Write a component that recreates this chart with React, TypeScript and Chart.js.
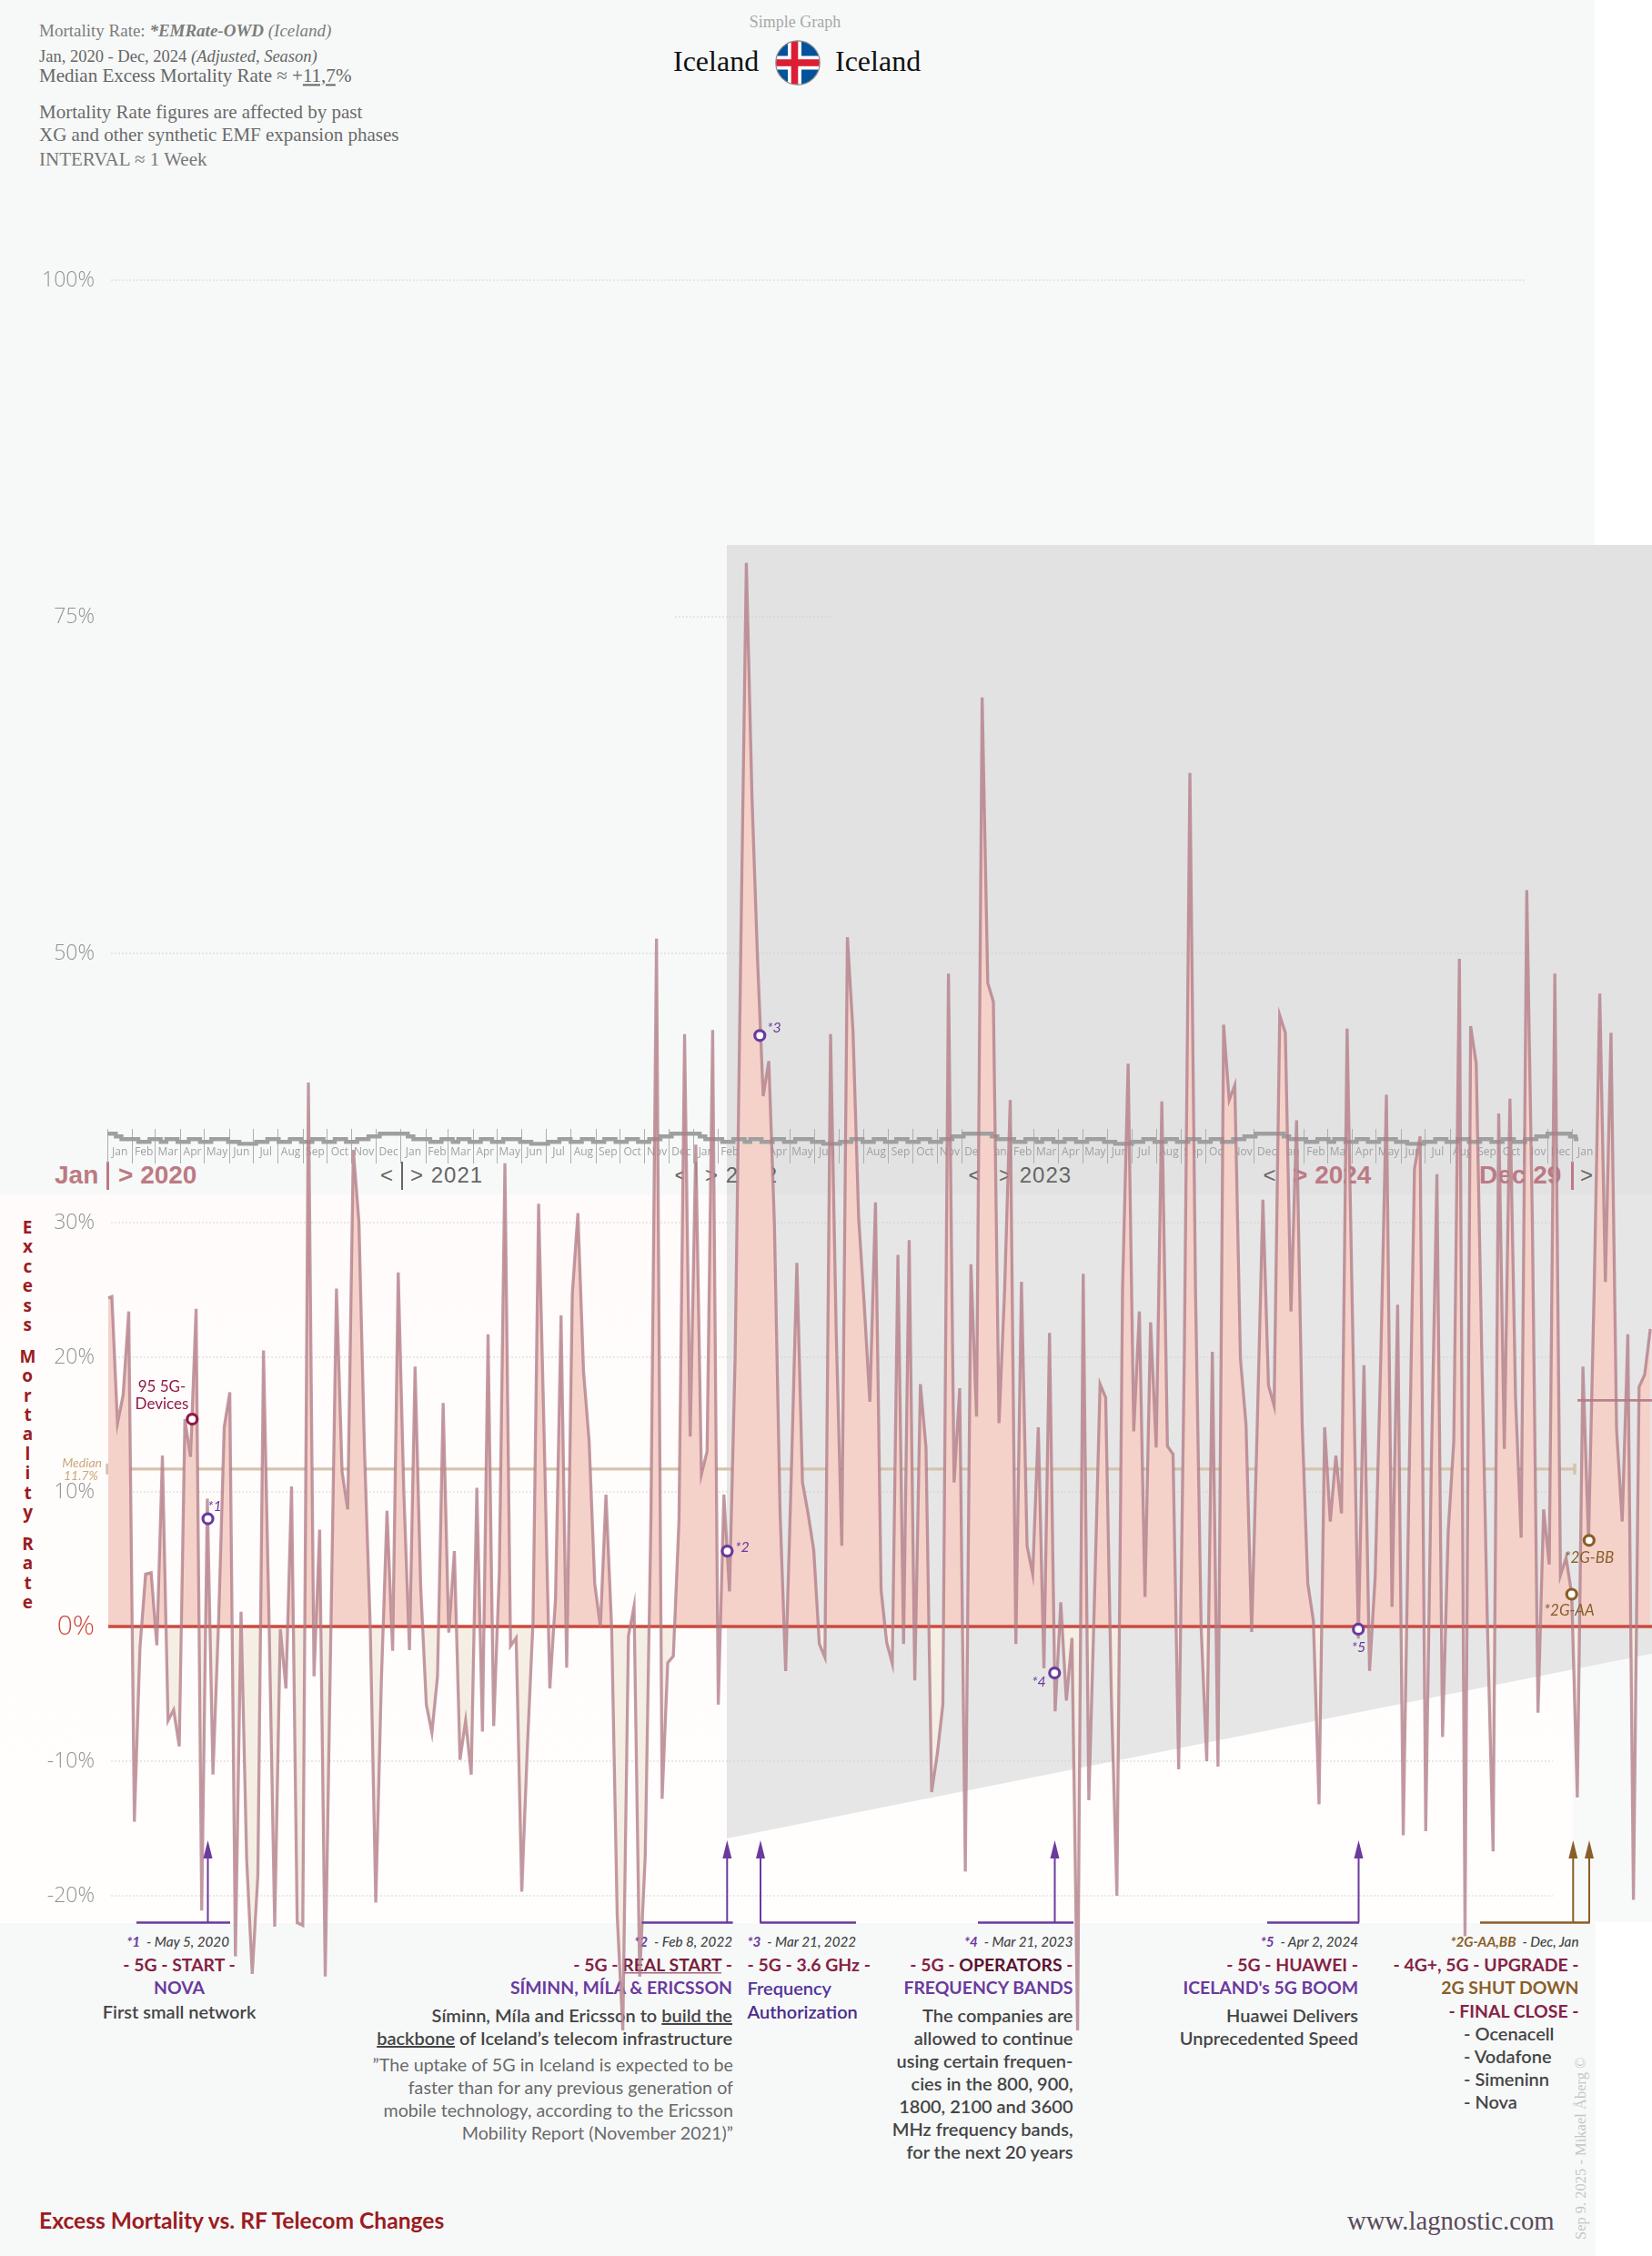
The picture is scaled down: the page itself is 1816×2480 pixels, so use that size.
import React, { useEffect, useRef } from "react";
import { Chart, registerables } from "chart.js";

Chart.register(...registerables);

// ---- Data -----------------------------------------------------------------
const leadValue = 24.4;
const weeklyExcess = [
  24.5, 15.1, 17.2, 23.4, -14.5, -1.6, 3.9, 4.0, -1.4, 12.7,
  -7.0, -6.2, -8.9, 15.4, 12.6, 23.6, -21.1, 9.5, -11.0, 0.3,
  14.8, 17.4, -24.5, 1.1, -17.3, -25.8, -18.5, 20.5, 0.3, -22.3,
  -0.2, -4.6, 10.4, -22, -22.2, 40.4, -3.7, 7.2, -26, -0.3,
  25.1, 11.5, 8.7, 35.4, 30.1, 13, 0.2, -20.5, -4, 8.6,
  -1.8, 26.3, 10, -1.75, 19.3, 3, -5.8, -7.9, -3.7, 16.6,
  -0.45, 5.6, -9.9, -7, -11, 10.3, -7.8, 21.7, -7.4, 4,
  34.4, -1.45, -0.85, -19.7, -9, 0.3, 31.4, 14, -4.6, 2,
  23.1, -3.05, 24.7, 30.7, 19, 13.8, 3.2, 0, 9.8, 0,
  -21.5, -30, -0.7, 1.5, -26, -17, 8, 51.1, -12.8, -2.7,
  -2.2, 7.9, 44, 14.1, 35.8, 11.3, 13, 44.3, -5.8, 9.8,
  2.6, 20, 50, 79, 61.7, 49.5, 39.4, 42, 29.9, 8.6,
  -3.3, 11.2, 27, 10.7, 8.4, 5.7, -1.3, -2.3, 44, 22,
  6, 51.2, 44.2, 30.4, 23.9, 16.7, 31.5, 2.7, -1.2, -2.75,
  27.6, -1.3, 28.7, -4, 18, 13.3, -12.3, -9.5, -5.8, 48.5,
  10.7, 17.7, -18.2, 26.9, 15.6, 69, 47.8, 46.4, 15.1, 25,
  39.1, -1.3, 25.6, 6, 3.9, 14.8, -3.1, 21.8, -6.3, 1.8,
  -5.5, -0.85, -30, 26.2, -12.9, 2, 18, 17, -5, -20,
  25, 41.8, 14.5, 23.4, 2.2, 22.6, 13.3, 39, 13.4, 12.8,
  -10.6, 20, 63.4, 25, 0, -10, 20.4, -10.4, 44.7, 39.1,
  40.2, 19.9, 15, -0.4, 15, 31.7, 17.9, 16.4, 45.4, 44.1,
  23.4, 37.6, 15, 3.2, 0.4, -13.2, 14.8, 7.8, 12.7, 8.4,
  44.4, 22, -0.9, 19.4, -3.3, 3.7, 20, 39.5, 1.45, 23.9,
  -15.5, 10, 34, 36.4, -15.2, 12, 33.6, -8.2, 7, 13.8,
  49.6, -23, 44.6, 41.8, 20, 0, -16.7, 38.1, 13.2, 39.2,
  17, 6.6, 54.7, 30, -6.4, 8.7, 4.6, 48.5, 3.8, 5.1,
  2.4, -12.7, 19.3, 6.4, 25, 47, 25.6, 44.1, 14.6, 7.8,
  21.7, -20.3, 17.8, 18.7, 22.1,
];
const stripYear = [
  36.6, 36.6, 36.4, 36.2, 36.2, 36.2, 36.0, 36.0, 36.2, 36.2, 36.0, 36.2, 36.2,
  36.0, 36.0, 36.2, 36.2, 36.0, 36.0, 36.2, 36.2, 36.2, 36.0, 36.0, 35.85, 35.85,
  35.85, 36.0, 36.0, 36.2, 36.2, 36.0, 36.0, 36.2, 36.2, 36.0, 36.0, 36.2, 36.2,
  36.0, 36.0, 36.2, 36.2, 36.0, 36.0, 36.2, 36.2, 36.4, 36.4, 36.6, 36.6, 36.6,
];
const stripSeries = [...stripYear, ...stripYear, ...stripYear, ...stripYear, ...stripYear, 36.6, 36.4, 36.2];
const monthNames = ["Jan", "Feb", "Mar", "Apr", "May", "Jun", "Jul", "Aug", "Sep", "Oct", "Nov", "Dec"];
const monthDays = [31, 28, 31, 30, 31, 30, 31, 31, 30, 31, 30, 31];
const yearList = [2020, 2021, 2022, 2023, 2024];
const yTickValues = [100, 75, 50, 30, 20, 10, 0, -10, -20];
const medianValue = 11.7;
const trailingMedian = 16.8;
const markerWeeks = [14.3, 17.1, 109.6, 115.4, 167.9, 222, 260, 263.1];
const markerValues = [15.4, 8.0, 5.6, 43.9, -3.45, -0.2, 2.4, 6.4];
const markerColors = ["#8E1A47", "#6B3A9E", "#6B3A9E", "#6B3A9E", "#6B3A9E", "#6B3A9E", "#8A5E28", "#8A5E28"];

// ---- Mapping constants -----------------------------------------------------
const W = 1816;
const H = 2480;
const AREA_LEFT = 117;
const X0 = 123;
const DX = 6.172;
const Y0 = 1788;
const DY = 14.8;
const vAt = (py: number) => (Y0 - py) / DY;
const wAt = (px: number) => (px - X0) / DX;

const boundaries: number[] = [];
const midpoints: number[] = [];
const monthTickLabels: string[] = [];
{
  let d = 0;
  yearList.forEach((yr) => {
    monthDays.forEach((len, m) => {
      const real = m === 1 && yr % 4 === 0 ? 29 : len;
      boundaries.push(-0.8 + d / 7);
      midpoints.push(-0.8 + (d + real / 2) / 7);
      monthTickLabels.push(monthNames[m]);
      d += real;
    });
  });
  boundaries.push(-0.8 + d / 7);
  midpoints.push(-0.8 + (d + 15.5) / 7);
  monthTickLabels.push("Jan");
}

const PURPLE = "#6B3A9E";
const BROWN = "#8A5E28";
const arrowDefs = [
  { from: 150, to: 253, tips: [228.5], color: PURPLE },
  { from: 705.6, to: 805.6, tips: [799.3], color: PURPLE },
  { from: 835.3, to: 941, tips: [836], color: PURPLE },
  { from: 1075, to: 1180, tips: [1159.5], color: PURPLE },
  { from: 1393, to: 1494, tips: [1493.5], color: PURPLE },
  { from: 1627, to: 1747.7, tips: [1729.3, 1747], color: BROWN },
];

const gridExtents: Record<number, [number, number]> = {
  100: [122, 1678],
  75: [742, 915],
  50: [122, 1676],
  30: [122, 1707],
  20: [122, 1707],
  10: [122, 1707],
  [-10]: [122, 1707],
  [-20]: [122, 1707],
};

const dottedGrid = {
  id: "dottedGrid",
  beforeDatasetsDraw(chart: any) {
    const { ctx, scales } = chart;
    ctx.save();
    ctx.setLineDash([2, 2]);
    ctx.lineWidth = 1.5;
    ctx.strokeStyle = "rgba(200,205,205,0.55)";
    scales.y.ticks.forEach((t: any) => {
      const ext = gridExtents[t.value];
      if (!ext) return;
      const y = Math.round(scales.y.getPixelForValue(t.value));
      ctx.beginPath();
      ctx.moveTo(ext[0], y);
      ctx.lineTo(ext[1], y);
      ctx.stroke();
    });
    ctx.restore();
  },
};

const arrows = {
  id: "arrows",
  afterDatasetsDraw(chart: any) {
    const { ctx } = chart;
    const base = 2113.5;
    ctx.save();
    arrowDefs.forEach((a) => {
      ctx.strokeStyle = a.color;
      ctx.fillStyle = a.color;
      ctx.lineWidth = 2.5;
      ctx.beginPath();
      ctx.moveTo(a.from, base);
      ctx.lineTo(a.to, base);
      ctx.stroke();
      a.tips.forEach((x) => {
        ctx.lineWidth = 2;
        ctx.beginPath();
        ctx.moveTo(x, base);
        ctx.lineTo(x, 2040);
        ctx.stroke();
        ctx.beginPath();
        ctx.moveTo(x, 2023);
        ctx.lineTo(x + 5, 2043);
        ctx.lineTo(x - 5, 2043);
        ctx.closePath();
        ctx.fill();
      });
    });
    ctx.restore();
  },
};

const noPad = (s: any) => {
  s.paddingLeft = 0;
  s.paddingRight = 0;
  s.paddingTop = 0;
  s.paddingBottom = 0;
};

// ---- Text helper -----------------------------------------------------------
type TP = {
  x: number;
  y: number;
  a?: "l" | "r" | "c";
  s?: number;
  c?: string;
  w?: number | string;
  i?: boolean;
  f?: string;
  ls?: number;
  children: React.ReactNode;
};
const LATO = "Lato, 'Open Sans', sans-serif";
const SERIF = "'Liberation Serif', serif";
const ARIAL = "'Liberation Sans', Arial, sans-serif";
function T({ x, y, a = "l", s = 18, c = "#444", w = 400, i = false, f = LATO, ls = 0, children }: TP) {
  const tx = a === "l" ? "0" : a === "r" ? "-100%" : "-50%";
  return (
    <div
      style={{
        position: "absolute",
        left: x,
        top: y,
        transform: `translate(${tx}, -50%)`,
        fontFamily: f,
        fontSize: s,
        color: c,
        fontWeight: w as any,
        fontStyle: i ? "italic" : "normal",
        whiteSpace: "pre",
        lineHeight: 1.2,
        letterSpacing: ls,
      }}
    >
      {children}
    </div>
  );
}
const Box = ({ l, t, w, h, c, clip }: { l: number; t: number; w: number; h: number; c: string; clip?: string }) => (
  <div style={{ position: "absolute", left: l, top: t, width: w, height: h, background: c, clipPath: clip }} />
);
const U = ({ children }: { children: React.ReactNode }) => <span style={{ textDecoration: "underline" }}>{children}</span>;

const ROSE = "#BC7A84";
const GREY = "#666";
const WINE = "#862244";
const DATE = "#444";
const BODY = "#454545";
const QUOTE = "#6A6A6A";
const BODY_W = 600;

const Bar = ({ x, c, w = 2 }: { x: number; c: string; w?: number }) => (
  <Box l={x - w / 2} t={1277} w={w} h={31} c={c} />
);

function DateLine({ x, a, tag, date, c = PURPLE }: { x: number; a: "l" | "r"; tag: string; date: string; c?: string }) {
  return (
    <T x={x} y={2134} a={a} s={15.2} i w={500} c={DATE}>
      <span style={{ color: c, fontWeight: 700 }}>{tag}</span>
      {"  - " + date}
    </T>
  );
}

function Flag() {
  return (
    <svg style={{ position: "absolute", left: 851, top: 43 }} width={52} height={52} viewBox="0 0 52 52">
      <defs>
        <clipPath id="flagc">
          <circle cx={26} cy={26} r={24} />
        </clipPath>
      </defs>
      <g clipPath="url(#flagc)">
        <rect width={52} height={52} fill="#02529C" />
        <rect x={15} width={15} height={52} fill="#fff" />
        <rect y={18.5} width={52} height={15} fill="#fff" />
        <rect x={18.7} width={7.6} height={52} fill="#DC1E35" />
        <rect y={22.2} width={52} height={7.6} fill="#DC1E35" />
      </g>
      <circle cx={26} cy={26} r={24.2} fill="none" stroke="#8a8a8a" strokeWidth={1.2} />
    </svg>
  );
}

export default function App() {
  const ref = useRef<HTMLCanvasElement | null>(null);
  useEffect(() => {
    if (!ref.current) return;
    const series = [
      { x: -0.65, y: leadValue },
      ...weeklyExcess.map((y, i) => ({ x: i, y })),
    ];
    const span = { min: wAt(AREA_LEFT), max: wAt(W) };
    const chart = new Chart(ref.current, {
      type: "line",
      data: {
        datasets: [
          {
            label: "Median",
            data: [
              { x: wAt(118), y: medianValue },
              { x: wAt(1731), y: medianValue },
            ],
            borderColor: "#D6C3AC",
            borderWidth: 3.2,
            pointStyle: "line",
            pointRotation: 90,
            pointRadius: 6,
            pointBorderColor: "#D6C3AC",
            pointBorderWidth: 3.5,
            order: 6,
            clip: false,
          } as any,
          {
            label: "Excess fill",
            data: series,
            borderWidth: 0,
            pointRadius: 0,
            tension: 0,
            fill: { target: { value: 0 }, above: "#F4D2C9", below: "#F5EEE4" },
            order: 5,
          } as any,
          {
            label: "Zero",
            data: [
              { x: -0.65, y: 0 },
              { x: span.max, y: 0 },
            ],
            borderColor: "#CC4A3E",
            borderWidth: 3.6,
            pointRadius: 0,
            order: 4,
          } as any,
          {
            label: "Interval strip",
            data: stripSeries.map((y, i) => ({ x: i - 0.8, y })),
            borderColor: "#9F9F9F",
            borderWidth: 4.4,
            pointRadius: 0,
            stepped: "middle",
            order: 3,
          } as any,
          {
            label: "Excess Mortality",
            data: series,
            borderColor: "rgba(176,122,134,0.76)",
            borderWidth: 3.3,
            pointRadius: 0,
            tension: 0,
            fill: false,
            order: 2,
          } as any,
          {
            label: "Trailing median",
            data: [
              { x: wAt(1734), y: trailingMedian },
              { x: span.max, y: trailingMedian },
            ],
            borderColor: "rgba(176,122,134,0.9)",
            borderWidth: 2.6,
            pointRadius: 0,
            order: 1,
          } as any,
          {
            label: "Events",
            data: markerWeeks.map((x, i) => ({ x, y: markerValues[i] })),
            showLine: false,
            pointRadius: 5.5,
            pointBorderWidth: 3.2,
            pointBackgroundColor: "#fff",
            pointBorderColor: markerColors,
            order: 0,
          } as any,
        ],
      },
      options: {
        animation: false,
        responsive: false,
        devicePixelRatio: 1,
        parsing: false,
        normalized: true,
        layout: { padding: 0, autoPadding: false },
        plugins: { legend: { display: false }, tooltip: { enabled: false } },
        elements: { line: { borderJoinStyle: "miter", capBezierPoints: false } },
        scales: {
          x: { type: "linear", display: false, min: span.min, max: span.max },
          xBounds: {
            type: "linear",
            axis: "x",
            position: { y: vAt(1241) },
            min: span.min,
            max: span.max,
            afterBuildTicks: (s: any) => {
              s.ticks = boundaries.map((value) => ({ value }));
            },
            afterFit: (s: any) => {
              s.height = 0;
              noPad(s);
            },
            border: { display: false },
            grid: { drawOnChartArea: false, drawTicks: true, tickLength: 38, color: "#AEAEAE", lineWidth: 1 },
            ticks: { display: false, autoSkip: false },
          },
          xMonths: {
            type: "linear",
            axis: "x",
            position: { y: vAt(1259) },
            min: span.min,
            max: span.max,
            afterBuildTicks: (s: any) => {
              s.ticks = midpoints.map((value) => ({ value }));
            },
            afterFit: (s: any) => {
              s.height = 0;
              noPad(s);
            },
            border: { display: false },
            grid: { display: false, drawTicks: false },
            ticks: {
              autoSkip: false,
              maxRotation: 0,
              minRotation: 0,
              padding: 0,
              color: "#A0A0A0",
              font: { family: "'Liberation Sans Narrow', 'Open Sans', sans-serif", size: 12 },
              callback: (_v: any, i: number) => monthTickLabels[i],
            },
          },
          y: {
            type: "linear",
            min: vAt(H),
            max: vAt(0),
            afterBuildTicks: (s: any) => {
              s.ticks = yTickValues.map((value) => ({ value }));
            },
            afterFit: (s: any) => {
              s.width = AREA_LEFT;
              noPad(s);
            },
            border: { display: false },
            grid: { display: false, drawTicks: false },
            ticks: {
              autoSkip: false,
              padding: 13,
              color: (ctx: any) => (ctx.tick.value === 0 ? "#CC4A3E" : "#929292"),
              font: (ctx: any) => ({
                family: "'Open Sans', sans-serif",
                weight: "300",
                size: ctx.tick && ctx.tick.value === 0 ? 30 : 23,
              }),
              callback: (v: any) => `${v}%`,
            },
          },
        },
      } as any,
      plugins: [dottedGrid, arrows],
    });
    return () => chart.destroy();
  }, []);

  return (
    <div style={{ position: "absolute", left: 0, top: 0, width: W, height: H, overflow: "hidden", background: "#fff" }}>
      {/* panels */}
      <Box l={0} t={0} w={1753} h={1313} c="#F7F9F8" />
      <Box l={0} t={1313} w={1729} h={800} c="linear-gradient(#FFFBFB, #FFFEFD)" />
      <Box l={0} t={2113.5} w={1754} h={367} c="#F7F9F9" />
      <Box l={1729} t={1313} w={87} h={800} c="#F8F9F9" />
      <Box l={799} t={599} w={1017} h={714} c="#E2E2E2" />
      <Box l={799} t={1313} w={1017} h={708} c="#E6E6E6" clip="polygon(0 0, 100% 0, 100% 71.3%, 0 100%)" />

      {/* header */}
      <T x={43} y={34} s={19} c="#7C7C7C" f={SERIF}>
        {"Mortality Rate: "}
        <b style={{ fontStyle: "italic" }}>*EMRate-OWD</b> <i>(Iceland)</i>
      </T>
      <T x={43} y={62} s={18.5} c="#666" f={SERIF}>
        Jan, 2020 - Dec, 2024 <i>(Adjusted, Season)</i>
      </T>
      <T x={43} y={84} s={21} c="#666" f={SERIF}>
        {"Median Excess Mortality Rate ≈ +"}
        <U>11,7</U>%
      </T>
      <T x={43} y={124} s={21} c="#6A6A6A" f={SERIF}>
        Mortality Rate figures are affected by past
      </T>
      <T x={43} y={149} s={21} c="#6A6A6A" f={SERIF}>
        XG and other synthetic EMF expansion phases
      </T>
      <T x={43} y={176} s={21} c="#777" f={SERIF}>
        INTERVAL ≈ 1 Week
      </T>
      <T x={874} y={25} a="c" s={18} c="#A8A8A8" f={SERIF}>
        Simple Graph
      </T>
      <T x={740} y={67} s={32} c="#111" f={SERIF}>
        Iceland
      </T>
      <T x={918} y={67} s={32} c="#111" f={SERIF}>
        Iceland
      </T>
      <Flag />

      {/* year band */}
      <T x={60} y={1292} s={28} w={700} c={ROSE} f={ARIAL}>
        Jan
      </T>
      <Bar x={118} c={ROSE} w={3} />
      <T x={130} y={1292} s={28} w={700} c={ROSE} f={ARIAL}>
        {"> 2020"}
      </T>
      <T x={418} y={1292} s={24} c={GREY} f={ARIAL} ls={1}>
        {"<"}
      </T>
      <Bar x={441.5} c={GREY} />
      <T x={451} y={1292} s={24} c={GREY} f={ARIAL} ls={1}>
        {"> 2021"}
      </T>
      <T x={741.5} y={1292} s={24} c={GREY} f={ARIAL} ls={1}>
        {"<"}
      </T>
      <Bar x={765} c={GREY} />
      <T x={775} y={1292} s={24} c={GREY} f={ARIAL} ls={1}>
        {"> 2022"}
      </T>
      <T x={1064.5} y={1292} s={24} c={GREY} f={ARIAL} ls={1}>
        {"<"}
      </T>
      <Bar x={1088} c={GREY} />
      <T x={1098} y={1292} s={24} c={GREY} f={ARIAL} ls={1}>
        {"> 2023"}
      </T>
      <T x={1388.5} y={1292} s={24} c={GREY} f={ARIAL} ls={1}>
        {"<"}
      </T>
      <Bar x={1411} c={GREY} />
      <T x={1421} y={1292} s={28} w={700} c={ROSE} f={ARIAL}>
        {"> 2024"}
      </T>
      <T x={1626} y={1292} s={28} w={700} c={ROSE} f={ARIAL}>
        Dec 29
      </T>
      <Bar x={1728} c={ROSE} w={3} />
      <T x={1737} y={1292} s={24} c={GREY} f={ARIAL}>
        {">"}
      </T>

      {/* y title */}
      <div
        style={{
          position: "absolute",
          left: 18,
          top: 1336,
          width: 24,
          writingMode: "vertical-rl",
          textOrientation: "upright",
          fontFamily: "'Open Sans', sans-serif",
          fontWeight: 700,
          fontSize: 19,
          lineHeight: "24px",
          color: "#9B1C22",
          letterSpacing: -4.6,
          wordSpacing: -8,
          whiteSpace: "pre",
        }}
      >
        Excess Mortality Rate
      </div>

      {/* block 1 */}
      <DateLine x={252} a="r" tag="*1" date="May 5, 2020" />
      <T x={197} y={2160} a="c" w={700} s={19.4} c={WINE}>
        - 5G - START -
      </T>
      <T x={197} y={2185} a="c" w={700} s={19.4} c={PURPLE}>
        NOVA
      </T>
      <T x={197} y={2211} a="c" w={BODY_W} s={20} c={BODY}>
        First small network
      </T>

      {/* block 2 */}
      <DateLine x={805} a="r" tag="*2" date="Feb 8, 2022" />
      <T x={805} y={2160} a="r" w={700} s={19.4} c={WINE}>
        {"- 5G - "}
        <span style={{ textDecoration: "underline", color: "#7A1F3D" }}>REAL START</span>
        {" -"}
      </T>
      <T x={805} y={2185} a="r" w={700} s={19.4} c={PURPLE}>
        SÍMINN, MÍLA &amp; ERICSSON
      </T>
      <T x={805} y={2215} a="r" w={BODY_W} s={20} c={BODY}>
        {"Síminn, Míla and Ericsson to "}
        <U>build the</U>
      </T>
      <T x={805} y={2240} a="r" w={BODY_W} s={20} c={BODY}>
        <U>backbone</U>
        {" of Iceland’s telecom infrastructure"}
      </T>
      <T x={806} y={2270} a="r" s={19.7} c={QUOTE}>
        ”The uptake of 5G in Iceland is expected to be
      </T>
      <T x={806} y={2295} a="r" s={19.7} c={QUOTE}>
        faster than for any previous generation of
      </T>
      <T x={806} y={2320} a="r" s={19.7} c={QUOTE}>
        mobile technology, according to the Ericsson
      </T>
      <T x={806} y={2345} a="r" s={19.7} c={QUOTE}>
        Mobility Report (November 2021)”
      </T>

      {/* block 3 */}
      <DateLine x={821.5} a="l" tag="*3" date="Mar 21, 2022" />
      <T x={821.5} y={2160} w={700} s={19.4} c={WINE}>
        - 5G - 3.6 GHz -
      </T>
      <T x={821.5} y={2185} w={BODY_W} s={20} c="#54329A">
        Frequency
      </T>
      <T x={821.5} y={2211} w={BODY_W} s={20} c="#4A2C8C">
        Authorization
      </T>

      {/* block 4 */}
      <DateLine x={1179.5} a="r" tag="*4" date="Mar 21, 2023" />
      <T x={1179.5} y={2160} a="r" w={700} s={19.4} c={WINE}>
        {"- 5G - "}
        <span style={{ color: "#5C1230" }}>OPERATORS</span>
        {" -"}
      </T>
      <T x={1179.5} y={2185} a="r" w={700} s={19.4} c={PURPLE}>
        FREQUENCY BANDS
      </T>
      {[
        "The companies are",
        "allowed to continue",
        "using certain frequen-",
        "cies in the 800, 900,",
        "1800, 2100 and 3600",
        "MHz frequency bands,",
        "for the next 20 years",
      ].map((t, i) => (
        <T key={t} x={1179.5} y={2215 + i * 25} a="r" w={BODY_W} s={20} c={BODY}>
          {t}
        </T>
      ))}

      {/* block 5 */}
      <DateLine x={1493} a="r" tag="*5" date="Apr 2, 2024" />
      <T x={1493} y={2160} a="r" w={700} s={19.4} c={WINE}>
        - 5G - HUAWEI -
      </T>
      <T x={1493} y={2185} a="r" w={700} s={19.4} c={PURPLE}>
        ICELAND's 5G BOOM
      </T>
      <T x={1493} y={2215} a="r" w={BODY_W} s={20} c={BODY}>
        Huawei Delivers
      </T>
      <T x={1493} y={2240} a="r" w={BODY_W} s={20} c={BODY}>
        Unprecedented Speed
      </T>

      {/* block 6 */}
      <DateLine x={1735.5} a="r" tag="*2G-AA,BB" date="Dec, Jan" c={BROWN} />
      <T x={1735.5} y={2160} a="r" w={700} s={19.4} c={WINE}>
        - 4G+, 5G - UPGRADE -
      </T>
      <T x={1735.5} y={2185} a="r" w={700} s={19.4} c={BROWN}>
        2G SHUT DOWN
      </T>
      <T x={1735.5} y={2211} a="r" w={700} s={19.4} c={WINE}>
        - FINAL CLOSE -
      </T>
      {["- Ocenacell", "- Vodafone", "- Simeninn", "- Nova"].map((t, i) => (
        <T key={t} x={1609} y={2235 + i * 25} w={BODY_W} s={20} c={BODY}>
          {t}
        </T>
      ))}

      {/* footer */}
      <T x={43} y={2441} w={700} s={24.6} c="#9B1C22">
        Excess Mortality vs. RF Telecom Changes
      </T>
      <T x={1481} y={2441} s={28.7} c="#5A4A5A" f="'Liberation Serif', serif">
        www.lagnostic.com
      </T>
      <div
        style={{
          position: "absolute",
          left: 1737.5,
          top: 2462,
          transform: "rotate(-90deg) translateY(-50%)",
          transformOrigin: "0 0",
          fontFamily: SERIF,
          fontSize: 16.5,
          color: "#C4C6C6",
          whiteSpace: "pre",
          lineHeight: 1.2,
        }}
      >
        Sep 9. 2025 - Mikael Åberg ©
      </div>

      <canvas
        ref={ref}
        width={W}
        height={H}
        style={{ position: "absolute", left: 0, top: 0, width: W, height: H, pointerEvents: "none" }}
      />

      {/* in-plot notes, above the fill */}
      <T x={112} y={1608} a="r" s={14} i c="#C9A878">
        Median
      </T>
      <T x={108} y={1622} a="r" s={14} i c="#C9A878">
        11.7%
      </T>
      <T x={178} y={1524} a="c" s={17} c="#8E1A47">
        95 5G-
      </T>
      <T x={178} y={1543} a="c" s={17} c="#8E1A47">
        Devices
      </T>
      <T x={236} y={1655} a="c" s={16} i c={PURPLE}>
        *1
      </T>
      <T x={816} y={1699.5} a="c" s={16} i c={PURPLE}>
        *2
      </T>
      <T x={851} y={1129} a="c" s={16} i c={PURPLE}>
        *3
      </T>
      <T x={1142} y={1848} a="c" s={16} i c={PURPLE}>
        *4
      </T>
      <T x={1493.5} y={1810} a="c" s={16} i c={PURPLE}>
        *5
      </T>
      <T x={1747} y={1712} a="c" s={17} i c={BROWN}>
        *2G-BB
      </T>
      <T x={1725} y={1770} a="c" s={17} i c={BROWN}>
        *2G-AA
      </T>
    </div>
  );
}
